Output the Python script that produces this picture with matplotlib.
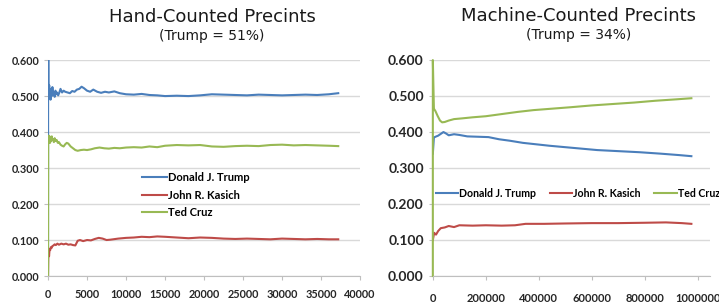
import matplotlib
matplotlib.use("Agg")
import matplotlib.pyplot as plt

# ---- data: hand-counted precincts (cumulative share vs. cumulative votes)
hand_trump_x = [0, 20, 60, 100, 150, 200, 260, 320, 400, 480, 560, 650, 750, 850, 950, 1050,
                1150, 1300, 1450, 1600, 1800, 2000, 2200, 2500, 2800, 3100, 3400, 3700, 4000,
                4300, 4600, 5000, 5400, 5800, 6300, 6800, 7300, 7800, 8500, 9200, 10000, 11000,
                12000, 13000, 14000, 15000, 16500, 18000, 19500, 21000, 22500, 24000, 25500,
                27000, 28500, 30000, 31500, 33000, 34500, 36000, 37200]
hand_trump_y = [0.0, 1.0, 0.54, 0.50, 0.53, 0.495, 0.52, 0.49, 0.515, 0.50, 0.525, 0.505, 0.51,
                0.498, 0.515, 0.505, 0.51, 0.502, 0.51, 0.52, 0.51, 0.515, 0.512, 0.51, 0.508,
                0.514, 0.512, 0.518, 0.52, 0.526, 0.522, 0.515, 0.512, 0.518, 0.512, 0.509, 0.512,
                0.51, 0.513, 0.508, 0.505, 0.504, 0.506, 0.503, 0.502, 0.5, 0.501, 0.5, 0.502,
                0.505, 0.504, 0.503, 0.502, 0.504, 0.503, 0.502, 0.503, 0.504, 0.503, 0.505, 0.508]

hand_cruz_x = [0, 20, 60, 100, 150, 200, 260, 320, 400, 480, 560, 650, 750, 850, 950, 1100, 1250,
               1400, 1600, 1800, 2000, 2200, 2400, 2600, 2900, 3200, 3500, 3800, 4200, 4600, 5000,
               5500, 6000, 6600, 7200, 7800, 8500, 9200, 10000, 11000, 12000, 13000, 14000, 15000,
               16500, 18000, 19500, 21000, 22500, 24000, 25500, 27000, 28500, 30000, 31500, 33000,
               34500, 36000, 37200]
hand_cruz_y = [0.0, 0.38, 0.37, 0.39, 0.372, 0.388, 0.37, 0.385, 0.375, 0.388, 0.378, 0.38, 0.372,
               0.383, 0.375, 0.378, 0.37, 0.372, 0.365, 0.362, 0.36, 0.366, 0.37, 0.368, 0.36,
               0.355, 0.35, 0.348, 0.35, 0.351, 0.35, 0.352, 0.355, 0.357, 0.355, 0.354, 0.356,
               0.355, 0.357, 0.358, 0.357, 0.36, 0.358, 0.362, 0.364, 0.363, 0.364, 0.36, 0.359,
               0.361, 0.362, 0.361, 0.364, 0.365, 0.363, 0.364, 0.363, 0.362, 0.361]

hand_kasich_x = [0, 30, 80, 130, 200, 280, 360, 450, 550, 700, 850, 1000, 1200, 1400, 1700, 2000,
                 2300, 2600, 2900, 3200, 3500, 3800, 4100, 4500, 5000, 5500, 6000, 6500, 7000, 7500,
                 8000, 9000, 10000, 11000, 12000, 13000, 14000, 15000, 16500, 18000, 19500, 21000,
                 22500, 24000, 25500, 27000, 28500, 30000, 31500, 33000, 34500, 36000, 37200]
hand_kasich_y = [0.0, 0.05, 0.07, 0.055, 0.075, 0.072, 0.08, 0.078, 0.083, 0.085, 0.088, 0.086,
                 0.09, 0.087, 0.09, 0.088, 0.09, 0.087, 0.088, 0.086, 0.085, 0.098, 0.1, 0.097, 0.1,
                 0.099, 0.103, 0.106, 0.104, 0.1, 0.101, 0.104, 0.106, 0.107, 0.109, 0.108, 0.11,
                 0.109, 0.107, 0.105, 0.107, 0.106, 0.104, 0.103, 0.104, 0.103, 0.102, 0.104,
                 0.103, 0.102, 0.103, 0.102, 0.102]

# ---- data: machine-counted precincts
mach_trump_x = [0, 4000, 10000, 20000, 30000, 40000, 50000, 60000, 80000, 100000, 130000,
                170000, 210000, 250000, 290000, 340000, 390000, 440000, 500000, 560000, 620000,
                700000, 780000, 860000, 930000, 976000]
mach_trump_y = [0.34, 0.385, 0.387, 0.39, 0.395, 0.40, 0.396, 0.391, 0.394, 0.392, 0.388,
                0.387, 0.386, 0.38, 0.376, 0.37, 0.366, 0.362, 0.358, 0.354, 0.35, 0.347, 0.344,
                0.34, 0.336, 0.333]

mach_cruz_x = [0, 0, 4000, 10000, 18000, 27000, 35000, 45000, 60000, 80000, 110000, 150000,
               200000, 260000, 320000, 380000, 450000, 520000, 600000, 680000, 760000, 840000,
               920000, 976000]
mach_cruz_y = [0.0, 0.6, 0.465, 0.458, 0.445, 0.432, 0.427, 0.428, 0.432, 0.436, 0.438, 0.441,
               0.444, 0.45, 0.456, 0.461, 0.465, 0.469, 0.474, 0.478, 0.482, 0.487, 0.491, 0.494]

mach_kasich_x = [0, 5000, 12000, 20000, 30000, 45000, 60000, 80000, 100000, 150000, 200000,
                 260000, 310000, 350000, 420000, 500000, 600000, 700000, 800000, 880000, 940000,
                 976000]
mach_kasich_y = [0.1, 0.12, 0.115, 0.125, 0.133, 0.135, 0.139, 0.136, 0.141, 0.14, 0.141,
                 0.14, 0.141, 0.145, 0.145, 0.146, 0.147, 0.147, 0.148, 0.149, 0.147, 0.145]

names = ["Donald J. Trump", "John R. Kasich", "Ted Cruz"]
colors = ["#4a7ebb", "#be4b48", "#98b954"]
y_ticks = [0.0, 0.1, 0.2, 0.3, 0.4, 0.5, 0.6]
hand_xticks = [0, 5000, 10000, 15000, 20000, 25000, 30000, 35000, 40000]
mach_xticks = [0, 200000, 400000, 600000, 800000, 1000000]

TICK_FONT = "Lato"
GRID = "#d9d9d9"


def style_axes(ax, xticks, xmax, yfs, xfs, xpad):
    ax.set_ylim(0, 0.6)
    ax.set_xlim(0, xmax)
    ax.set_yticks(y_ticks)
    ax.set_yticklabels(["%.3f" % v for v in y_ticks], fontfamily=TICK_FONT,
                       fontweight="bold", fontsize=yfs, color="#262626")
    ax.set_xticks(xticks)
    ax.set_xticklabels([str(v) for v in xticks], fontfamily=TICK_FONT,
                       fontweight="bold", fontsize=xfs, color="#262626")
    ax.grid(axis="y", color=GRID, linewidth=1)
    ax.set_axisbelow(True)
    for s in ["top", "right", "left"]:
        ax.spines[s].set_visible(False)
    ax.spines["bottom"].set_color("#bfbfbf")
    ax.tick_params(axis="both", length=3, color="#bfbfbf")
    ax.tick_params(axis="x", pad=xpad)


fig = plt.figure(figsize=(7.19, 3.05), dpi=100)

# left chart
ax1 = fig.add_axes([0.0668, 0.095, 0.434, 0.708])
ax1.plot(hand_trump_x, hand_trump_y, color=colors[0], lw=1.5, label=names[0])
ax1.plot(hand_kasich_x, hand_kasich_y, color=colors[1], lw=1.5, label=names[1])
ax1.plot(hand_cruz_x, hand_cruz_y, color=colors[2], lw=1.5, label=names[2])
style_axes(ax1, hand_xticks, 40000, 7.8, 7.8, 6)
ax1.legend(loc="center left", bbox_to_anchor=(0.27, 0.375), frameon=False,
           handlelength=2.2, handletextpad=0.1, labelspacing=0.6,
           prop={"family": TICK_FONT, "weight": "bold", "size": 8})
fig.text(0.295, 0.945, "Hand-Counted Precints", ha="center", va="center",
         fontsize=13, color="#1a1a1a")
fig.text(0.295, 0.882, "(Trump = 51%)", ha="center", va="center",
         fontsize=10, color="#1a1a1a")

# right chart
ax2 = fig.add_axes([0.602, 0.095, 0.385, 0.708])
ax2.plot(mach_trump_x, mach_trump_y, color=colors[0], lw=1.5, label=names[0])
ax2.plot(mach_kasich_x, mach_kasich_y, color=colors[1], lw=1.5, label=names[1])
ax2.plot(mach_cruz_x, mach_cruz_y, color=colors[2], lw=1.5, label=names[2], clip_on=False)
style_axes(ax2, mach_xticks, 1045000, 10, 8, 9)
ax2.legend(loc="center left", bbox_to_anchor=(-0.015, 0.384), frameon=False, ncol=3,
           handlelength=2.1, handletextpad=0.1, columnspacing=1.3, borderpad=0.2,
           prop={"family": TICK_FONT, "weight": "bold", "size": 7.6})
fig.text(0.805, 0.947, "Machine-Counted Precints", ha="center", va="center",
         fontsize=13, color="#1a1a1a")
fig.text(0.805, 0.884, "(Trump = 34%)", ha="center", va="center",
         fontsize=10, color="#1a1a1a")

fig.savefig("out.png", dpi=100)
